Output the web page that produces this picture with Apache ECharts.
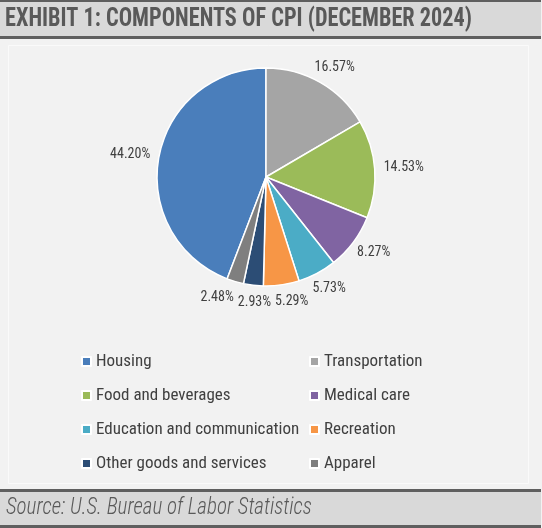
<!DOCTYPE html>
<html>
<head>
<meta charset="utf-8">
<script src="https://cdn.jsdelivr.net/npm/echarts@6/dist/echarts.min.js"></script>
<style>
  html, body { margin: 0; padding: 0; background: #f2f2f2; }
  #main { width: 542px; height: 528px; }
</style>
</head>
<body>
<div id="main"></div>
<script>
// CPI weights, December 2024
var categories = ['Housing', 'Transportation', 'Food and beverages', 'Medical care',
  'Education and communication', 'Recreation', 'Other goods and services', 'Apparel'];
var shares = [44.20, 16.57, 14.53, 8.27, 5.73, 5.29, 2.93, 2.48];
var colors = ['#4a7ebb', '#a5a5a5', '#9bbb59', '#8064a2', '#4bacc6', '#f79646', '#2c4d75', '#7f7f7f'];

var FONT = '"Roboto Condensed", "DejaVu Sans Condensed", sans-serif';
var TITLE = 'EXHIBIT 1: COMPONENTS OF CPI (DECEMBER 2024)';
var SOURCE = 'Source: U.S. Bureau of Labor Statistics';

var cx = 266, cy = 177, R = 109;

// Housing ends at 12 o'clock, the rest follow clockwise from there
var startAngle = 90 + shares[0] * 3.6;
var startClock = 360 - shares[0] * 3.6;

var measure = document.createElement('canvas').getContext('2d');

// Excel style "outside end" labels: box just off the rim, centred on the slice's mid angle,
// then the crowded ones along the bottom are pushed apart sideways
var labelSize = 14;
measure.font = labelSize + 'px ' + FONT;
var labelPos = [];
var run = 0;
shares.forEach(function (v) {
  var a = (startClock + (run + v / 2) * 3.6) * Math.PI / 180;
  run += v;
  var ux = Math.sin(a), uy = -Math.cos(a);
  var w = measure.measureText(v.toFixed(2) + '%').width, h = 16;
  var d = R + 9;
  labelPos.push({ x: cx + ux * (d + w / 2), y: cy + uy * (d + h / 2), w: w, h: h });
});
for (var it = 0; it < 60; it++) {
  for (var i = 0; i < labelPos.length; i++) {
    for (var j = i + 1; j < labelPos.length; j++) {
      var A = labelPos[i], B = labelPos[j];
      if (Math.abs(A.y - B.y) >= (A.h + B.h) / 2) continue;
      var need = (A.w + B.w) / 2 + 4;
      var dx = B.x - A.x;
      if (Math.abs(dx) >= need) continue;
      var push = (need - Math.abs(dx)) / 2, s = dx >= 0 ? 1 : -1;
      A.x -= s * push;
      B.x += s * push;
    }
  }
}

// the reference font is narrower than anything installed, so squeeze a bit
function squeeze(text, font, target) {
  measure.font = font;
  return target / measure.measureText(text).width;
}
var titleFont = 'bold 25px ' + FONT;
var sourceFont = 'italic 300 23px ' + FONT;

var chart = echarts.init(document.getElementById('main'));

var legendBase = {
  orient: 'vertical', top: 353, itemGap: 17, padding: 0,
  icon: 'rect', itemWidth: 9, itemHeight: 9,
  textStyle: { fontFamily: FONT, fontSize: 17, color: '#404040', lineHeight: 17 }
};

var option = {
  backgroundColor: '#f2f2f2',
  animation: false,
  graphic: [
    { type: 'rect', z: -10, shape: { x: 0, y: 0, width: 541, height: 38 }, style: { fill: '#d9d9d9' } },
    { type: 'rect', z: -9, shape: { x: 0, y: 0, width: 541, height: 2 }, style: { fill: '#5f5f5f' } },
    { type: 'rect', z: -9, shape: { x: 0, y: 36, width: 541, height: 3 }, style: { fill: '#5f5f5f' } },
    { type: 'rect', z: -9, shape: { x: 8.5, y: 45.5, width: 520, height: 438 }, style: { fill: null, stroke: '#fafafa', lineWidth: 1 } },
    { type: 'rect', z: -10, shape: { x: 0, y: 489, width: 541, height: 39 }, style: { fill: '#d9d9d9' } },
    { type: 'rect', z: -9, shape: { x: 0, y: 489, width: 541, height: 3 }, style: { fill: '#5f5f5f' } },
    { type: 'rect', z: -9, shape: { x: 0, y: 525, width: 541, height: 3 }, style: { fill: '#5f5f5f' } },
    {
      type: 'text', x: 5, y: 20, scaleX: squeeze(TITLE, titleFont, 467),
      style: { text: TITLE, font: titleFont, fill: '#595959', verticalAlign: 'middle' }
    },
    {
      type: 'text', x: 6, y: 508, scaleX: squeeze(SOURCE, sourceFont, 306),
      style: { text: SOURCE, font: sourceFont, fill: '#595959', verticalAlign: 'middle' }
    }
  ],
  legend: [
    Object.assign({ data: [categories[0], categories[2], categories[4], categories[6]], left: 81 }, legendBase),
    Object.assign({ data: [categories[1], categories[3], categories[5], categories[7]], left: 309 }, legendBase)
  ],
  series: [{
    type: 'pie',
    center: [cx, cy],
    radius: R,
    startAngle: startAngle,
    clockwise: true,
    avoidLabelOverlap: false,
    itemStyle: { borderColor: '#ffffff', borderWidth: 1.5 },
    label: {
      show: true,
      position: 'outside',
      formatter: function (p) { return p.value.toFixed(2) + '%'; },
      fontFamily: FONT,
      fontSize: labelSize,
      color: '#404040'
    },
    labelLine: { show: false, length: 8, length2: 0 },
    labelLayout: function (p) {
      var L = labelPos[p.dataIndex];
      return { x: L.x, y: L.y, align: 'center', verticalAlign: 'middle' };
    },
    data: categories.map(function (name, i) {
      return { name: name, value: shares[i], itemStyle: { color: colors[i] } };
    })
  }]
};

chart.setOption(option);
</script>
</body>
</html>
